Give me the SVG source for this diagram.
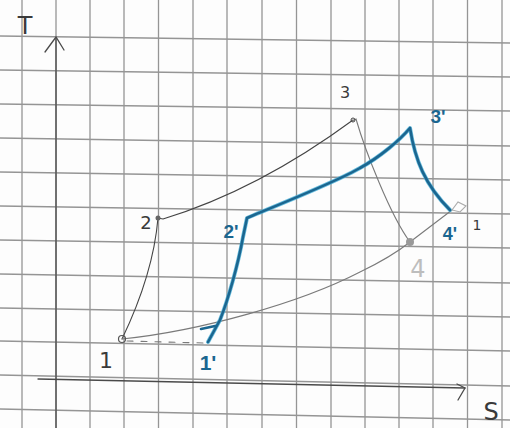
<svg xmlns="http://www.w3.org/2000/svg" width="510" height="428" viewBox="0 0 510 428">
<style>
.grid line{stroke:#959595;stroke-width:1.3}
.axis{stroke:#4a4a4a;stroke-width:1.3;fill:none;stroke-linecap:round}
.gray{stroke:#444;stroke-width:1.1;fill:none;stroke-linecap:round}
.light{stroke:#7a7a7a;stroke-width:1.1;fill:none;stroke-linecap:round}
.blueU{stroke:#45aed6;stroke-width:4;fill:none;stroke-linecap:round;stroke-linejoin:round;opacity:0.8}
.blue{stroke:#1b6690;stroke-width:2.6;fill:none;stroke-linecap:round;stroke-linejoin:round}
.lbl{font-family:"DejaVu Sans","Liberation Sans",sans-serif;fill:#3a3a3a;text-anchor:middle}
.blbl{font-family:"Liberation Sans","DejaVu Sans",sans-serif;fill:#1b6690;text-anchor:middle;font-weight:bold}
</style>
<rect width="510" height="428" fill="#fdfdfd"/>
<g class="grid">
<line x1="22" y1="0" x2="22" y2="428"/>
<line x1="56" y1="0" x2="56" y2="428"/>
<line x1="90" y1="0" x2="90" y2="428"/>
<line x1="124" y1="0" x2="124" y2="428"/>
<line x1="158.5" y1="0" x2="158.5" y2="428"/>
<line x1="193" y1="0" x2="193" y2="428"/>
<line x1="227" y1="0" x2="227" y2="428"/>
<line x1="262" y1="0" x2="262" y2="428"/>
<line x1="296.5" y1="0" x2="296.5" y2="428"/>
<line x1="331" y1="0" x2="331" y2="428"/>
<line x1="365" y1="0" x2="365" y2="428"/>
<line x1="399" y1="0" x2="399" y2="428"/>
<line x1="433" y1="0" x2="433" y2="428"/>
<line x1="467.5" y1="0" x2="467.5" y2="428"/>
<line x1="502" y1="0" x2="502" y2="428"/>
<line x1="0" y1="36" x2="510" y2="43"/>
<line x1="0" y1="70" x2="510" y2="77"/>
<line x1="0" y1="104" x2="510" y2="111"/>
<line x1="0" y1="138" x2="510" y2="146"/>
<line x1="0" y1="172" x2="510" y2="180"/>
<line x1="0" y1="206" x2="510" y2="214"/>
<line x1="0" y1="240" x2="510" y2="248"/>
<line x1="0" y1="274" x2="510" y2="283"/>
<line x1="0" y1="308" x2="510" y2="317"/>
<line x1="0" y1="341" x2="510" y2="351"/>
<line x1="0" y1="375" x2="510" y2="386"/>
<line x1="0" y1="409" x2="510" y2="420"/>
</g>
<g id="axes">
<path class="axis" d="M56,428 L56,38"/>
<path class="axis" d="M45,52 L56,37 L64,50"/>
<path class="axis" d="M38,379 L465,388"/>
<path class="axis" d="M457,384 L465,388 L458,400"/>
<text class="lbl" x="25" y="34" font-size="24">T</text>
<text class="lbl" x="491" y="420" font-size="24">S</text>
</g>
<g id="connectors">
<path class="gray" d="M122,339 C135,312 154,265 158,218"/>
<path class="gray" d="M158,218 L163,219 Q258,190 353,120"/>
<path class="light" d="M352,121 L356,119 C365,150 390,215 410,242"/>
<path class="light" d="M122,339 C200,331 300,303 360,272 C385,260 400,250 410,242 L452,210"/>
<path class="light" d="M127,341 L205,343" stroke-dasharray="6,8"/>
<path class="blueU" d="M208,342 L220,320 C228,300 238,265 243,237 L247,218 L254,215 C290,200 340,180 360,168 C380,157 400,140 410,128 C415,160 425,185 450,210"/>
<path class="blue" d="M208,342 L220,320 C228,300 238,265 243,237 L247,218 L254,215 C290,200 340,180 360,168 C380,157 400,140 410,128 C415,160 425,185 450,210"/>
<path class="blue" d="M201,329 L215,326" stroke-width="1.6"/>
</g>
<g id="n1">
<circle cx="122" cy="339" r="3.5" fill="none" stroke="#555" stroke-width="1.2"/>
<text class="lbl" x="106" y="368" font-size="22">1</text>
</g>
<g id="n2">
<circle cx="158" cy="218" r="2.5" fill="#666"/>
<text class="lbl" x="146" y="229" font-size="18">2</text>
</g>
<g id="n3">
<circle cx="353" cy="120" r="2" fill="none" stroke="#444" stroke-width="1"/>
<text class="lbl" x="345" y="98" font-size="16">3</text>
</g>
<g id="n4">
<circle cx="410" cy="242" r="4" fill="#999"/>
<text class="lbl" x="418" y="277" font-size="24" style="fill:#bdbdbd">4</text>
</g>
<g id="n1b">
<path d="M452,210 L458,202 L466,206 L460,212 Z" fill="none" stroke="#aaa" stroke-width="1.1"/>
<text class="lbl" x="477" y="230" font-size="14">1</text>
</g>
<g id="n1p">
<text class="blbl" x="208" y="370" font-size="21">1'</text>
</g>
<g id="n2p">
<text class="blbl" x="231" y="238" font-size="19">2'</text>
</g>
<g id="n3p">
<text class="blbl" x="438" y="123" font-size="19">3'</text>
</g>
<g id="n4p">
<text class="blbl" x="450" y="240" font-size="18">4'</text>
</g>
</svg>
